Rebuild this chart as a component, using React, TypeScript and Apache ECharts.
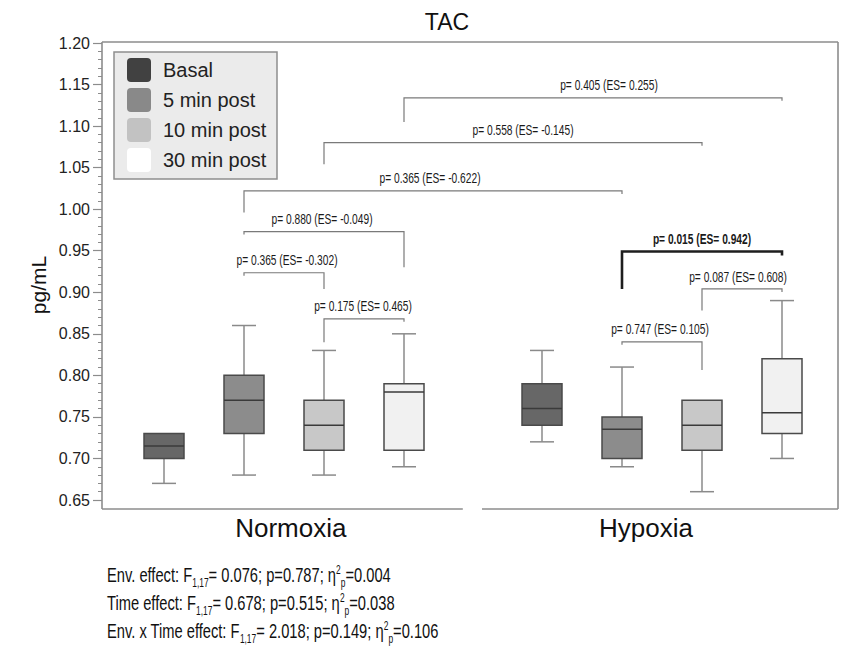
import React, { useEffect, useRef } from 'react';
import * as echarts from 'echarts';

// ---------- data ----------
const chartTitle = 'TAC';
const yAxisTitle = 'pg/mL';
const groups = ['Normoxia', 'Hypoxia'];
const timePoints = ['Basal', '5 min post', '10 min post', '30 min post'];
// [min, Q1, median, Q3, max]
const normoxiaBoxes = [
  [0.67, 0.70, 0.715, 0.73, 0.73],
  [0.68, 0.73, 0.77, 0.80, 0.86],
  [0.68, 0.71, 0.74, 0.77, 0.83],
  [0.69, 0.71, 0.78, 0.79, 0.85],
];
const hypoxiaBoxes = [
  [0.72, 0.74, 0.76, 0.79, 0.83],
  [0.69, 0.70, 0.735, 0.75, 0.81],
  [0.66, 0.71, 0.74, 0.77, 0.77],
  [0.70, 0.73, 0.755, 0.82, 0.89],
];
const yMin = 0.65;
const yMax = 1.2;
const yInterval = 0.05;

// pairwise comparisons: [group, timePoint]
const comparisonFrom = [[0, 3], [0, 2], [0, 1], [0, 1], [0, 1], [0, 2], [1, 1], [1, 2], [1, 1]];
const comparisonTo = [[1, 3], [1, 2], [1, 1], [0, 3], [0, 2], [0, 3], [1, 3], [1, 3], [1, 2]];
const comparisonLabels = [
  'p= 0.405 (ES= 0.255)',
  'p= 0.558 (ES= -0.145)',
  'p= 0.365 (ES= -0.622)',
  'p= 0.880 (ES= -0.049)',
  'p= 0.365 (ES= -0.302)',
  'p= 0.175 (ES= 0.465)',
  'p= 0.015 (ES= 0.942)',
  'p= 0.087 (ES= 0.608)',
  'p= 0.747 (ES= 0.105)',
];
const comparisonSignificant = [false, false, false, false, false, false, true, false, false];

// ANOVA summary
const effectNames = ['Env. effect', 'Time effect', 'Env. x Time effect'];
const effectDf = ['1,17', '1,17', '1,17'];
const effectF = ['0.076', '0.678', '2.018'];
const effectP = ['0.787', '0.515', '0.149'];
const effectEta = ['0.004', '0.038', '0.106'];

// ---------- layout (not data) ----------
const GROUP_START = [0.775, 5.5]; // slot position of first box in each group
const GROUP_SPAN = [[0, 4.51], [4.75, 9.2]];
const GROUP_LABEL_X = [2.36, 6.8];
const X_MAX = 9.2;
const BRACKET_LEVEL = [1.134, 1.08, 1.022, 0.973, 0.9235, 0.868, 0.949, 0.904, 0.8404];
const BRACKET_LEG = [1.105, 1.054, 0.996, 0.93, 0.904, 0.84, 0.904, 0.878, 0.8066];
const BRACKET_LONG_SIDE = ['l', 'l', 'l', 'r', 'r', 'l', 'l', 'l', 'r'];
const BRACKET_LABEL_DX = [16, 10, -3, -2, 3, -1, 0, -4, -2];
const BOX_FILL = ['#676767', '#8c8c8c', '#c8c8c8', '#f1f1f1'];
const LEGEND_FILL = ['#414141', '#898989', '#c2c2c2', '#ffffff'];
const SANS = '"Liberation Sans", Arial, Helvetica, sans-serif';
const FRAME = '#8c8c8c';
const CONDENSE = 0.73;

const slotX = (g: number, t: number) => GROUP_START[g] + t;

export default function App() {
  const ref = useRef<HTMLDivElement>(null);

  useEffect(() => {
    if (!ref.current) return;
    const chart = echarts.init(ref.current, null, { renderer: 'svg' });

    const boxData: number[][] = [];
    [normoxiaBoxes, hypoxiaBoxes].forEach((arr, g) =>
      arr.forEach((b, t) => boxData.push([slotX(g, t), ...b, t]))
    );

    const bracketData = comparisonFrom.map((f, i) => [slotX(f[0], f[1]), BRACKET_LEVEL[i]]);

    const legendChildren: any[] = [
      {
        type: 'rect',
        shape: { x: 114, y: 52, width: 163, height: 127 },
        style: { fill: '#ebebeb', stroke: '#8f8f8f', lineWidth: 1.5 },
      },
    ];
    timePoints.forEach((tp, i) => {
      legendChildren.push({
        type: 'rect',
        shape: { x: 127, y: 58 + 30 * i, width: 24, height: 24, r: 4 },
        style: { fill: LEGEND_FILL[i], stroke: 'none' },
      });
      legendChildren.push({
        type: 'text',
        x: 163,
        y: 70 + 30 * i,
        style: {
          text: tp,
          fontSize: 20,
          fontFamily: SANS,
          fill: '#222',
          align: 'left',
          textAlign: 'left',
          verticalAlign: 'middle',
          textVerticalAlign: 'middle',
        },
      });
    });

    const statTexts = effectNames.map((name, i) => ({
      type: 'text',
      x: 107,
      y: 575 + 28 * i,
      scaleX: 0.7,
      style: {
        text: `{n|${name}: F}{sub|${effectDf[i]}}{n|= ${effectF[i]}; p=${effectP[i]}; η}{sup|2}{sub|p}{n|=${effectEta[i]}}`,
        align: 'left',
        textAlign: 'left',
        verticalAlign: 'middle',
        textVerticalAlign: 'middle',
        rich: {
          n: { fontSize: 21, fontFamily: SANS, fill: '#111', lineHeight: 28 },
          sub: { fontSize: 12, fontFamily: SANS, fill: '#111', verticalAlign: 'bottom' },
          sup: { fontSize: 12, fontFamily: SANS, fill: '#111', verticalAlign: 'top', padding: [3, 0, 0, 0] },
        },
      },
    }));

    const option: any = {
      animation: false,
      backgroundColor: '#ffffff',
      grid: { left: 102, top: 43, width: 736, height: 457, containLabel: false },
      xAxis: { type: 'value', min: 0, max: X_MAX, show: false },
      yAxis: {
        type: 'value',
        min: yMin,
        max: yMax,
        interval: yInterval,
        axisLine: { show: false },
        axisTick: { show: true, length: 9, lineStyle: { color: FRAME, width: 1.2 } },
        minorTick: { show: true, splitNumber: 5, length: 4, lineStyle: { color: FRAME, width: 1 } },
        splitLine: { show: false },
        minorSplitLine: { show: false },
        axisLabel: {
          formatter: (v: number) => v.toFixed(2),
          fontSize: 16,
          color: '#222',
          fontFamily: SANS,
          margin: 12,
        },
      },
      graphic: [
        {
          type: 'text',
          x: 447,
          y: 22,
          style: {
            text: chartTitle,
            fontSize: 23,
            fontFamily: SANS,
            fill: '#111',
            align: 'center',
            textAlign: 'center',
            verticalAlign: 'middle',
            textVerticalAlign: 'middle',
          },
        },
        {
          type: 'text',
          x: 38,
          y: 285,
          rotation: Math.PI / 2,
          style: {
            text: yAxisTitle,
            fontSize: 21,
            fontFamily: SANS,
            fill: '#111',
            align: 'center',
            textAlign: 'center',
            verticalAlign: 'middle',
            textVerticalAlign: 'middle',
          },
        },
        { type: 'group', children: legendChildren },
        ...statTexts,
      ],
      series: [
        {
          type: 'custom',
          name: 'frame',
          silent: true,
          data: [[0, yMax]],
          renderItem: (_p: any, api: any) => {
            const [x0, yTop] = api.coord([0, yMax]);
            const [x1] = api.coord([X_MAX, yMax]);
            const yBot = api.coord([0, yMin])[1] + 9;
            const st = { stroke: FRAME, lineWidth: 1.6 };
            const children: any[] = [
              { type: 'line', shape: { x1: x0, y1: yTop - 1, x2: x0, y2: yBot }, style: st },
              { type: 'line', shape: { x1: x0, y1: yTop - 1, x2: x1, y2: yTop - 1 }, style: st },
              { type: 'line', shape: { x1: x1, y1: yTop - 1, x2: x1, y2: yBot }, style: st },
            ];
            groups.forEach((g, gi) => {
              const a = api.coord([GROUP_SPAN[gi][0], yMin])[0];
              const b = api.coord([GROUP_SPAN[gi][1], yMin])[0];
              children.push({ type: 'line', shape: { x1: a, y1: yBot, x2: b, y2: yBot }, style: st });
              children.push({
                type: 'text',
                x: api.coord([GROUP_LABEL_X[gi], yMin])[0],
                y: yBot + 19,
                style: {
                  text: g,
                  fontSize: 26,
                  fontFamily: SANS,
                  fill: '#111',
                  align: 'center',
                  textAlign: 'center',
                  verticalAlign: 'middle',
                  textVerticalAlign: 'middle',
                },
              });
            });
            return { type: 'group', children };
          },
        },
        {
          type: 'custom',
          name: 'boxes',
          data: boxData,
          encode: { x: 0, y: [1, 2, 3, 4, 5] },
          renderItem: (_p: any, api: any) => {
            const x = api.value(0);
            const mn = api.value(1);
            const q1 = api.value(2);
            const md = api.value(3);
            const q3 = api.value(4);
            const mx = api.value(5);
            const ci = api.value(6);
            const cx = api.coord([x, md])[0];
            const Y = (v: number) => api.coord([x, v])[1];
            const half = api.size([0.5, 0])[0] / 2;
            const cap = api.size([0.3, 0])[0] / 2;
            const wh = { stroke: '#8a8a8a', lineWidth: 1.5 };
            const children: any[] = [];
            if (mn < q1) {
              children.push({ type: 'line', shape: { x1: cx, y1: Y(q1), x2: cx, y2: Y(mn) }, style: wh });
              children.push({ type: 'line', shape: { x1: cx - cap, y1: Y(mn), x2: cx + cap, y2: Y(mn) }, style: wh });
            }
            if (mx > q3) {
              children.push({ type: 'line', shape: { x1: cx, y1: Y(q3), x2: cx, y2: Y(mx) }, style: wh });
              children.push({ type: 'line', shape: { x1: cx - cap, y1: Y(mx), x2: cx + cap, y2: Y(mx) }, style: wh });
            }
            children.push({
              type: 'rect',
              shape: { x: cx - half, y: Y(q3), width: 2 * half, height: Y(q1) - Y(q3) },
              style: { fill: BOX_FILL[ci], stroke: '#4a4a4a', lineWidth: 1.5 },
            });
            children.push({
              type: 'line',
              shape: { x1: cx - half, y1: Y(md), x2: cx + half, y2: Y(md) },
              style: { stroke: '#3a3a3a', lineWidth: 1.5 },
            });
            return { type: 'group', children };
          },
        },
        {
          type: 'custom',
          name: 'comparisons',
          data: bracketData,
          renderItem: (p: any, api: any) => {
            const i = p.dataIndex;
            const f = comparisonFrom[i];
            const t = comparisonTo[i];
            const xa = api.coord([slotX(f[0], f[1]), yMin])[0];
            const xb = api.coord([slotX(t[0], t[1]), yMin])[0];
            const yl = api.coord([0, BRACKET_LEVEL[i]])[1];
            const yLeg = api.coord([0, BRACKET_LEG[i]])[1];
            const bold = comparisonSignificant[i];
            const tick = bold ? 4 : 3;
            const yLeft = BRACKET_LONG_SIDE[i] === 'l' ? yLeg : yl + tick;
            const yRight = BRACKET_LONG_SIDE[i] === 'r' ? yLeg : yl + tick;
            return {
              type: 'group',
              children: [
                {
                  type: 'polyline',
                  shape: { points: [[xa, yLeft], [xa, yl], [xb, yl], [xb, yRight]] },
                  style: { fill: 'none', stroke: bold ? '#1e1e1e' : '#7a7a7a', lineWidth: bold ? 2.6 : 1.2 },
                },
                {
                  type: 'text',
                  x: (xa + xb) / 2 + BRACKET_LABEL_DX[i],
                  y: yl - 12,
                  scaleX: CONDENSE,
                  style: {
                    text: comparisonLabels[i],
                    fontSize: 14,
                    fontFamily: SANS,
                    fontWeight: bold ? 'bold' : 'normal',
                    fill: '#1a1a1a',
                    align: 'center',
                    textAlign: 'center',
                    verticalAlign: 'middle',
                    textVerticalAlign: 'middle',
                  },
                },
              ],
            };
          },
        },
      ],
    };

    chart.setOption(option);
    return () => chart.dispose();
  }, []);

  return (
    <div
      ref={ref}
      style={{ position: 'fixed', left: 0, top: 0, width: 842, height: 653, background: '#fff' }}
    />
  );
}
